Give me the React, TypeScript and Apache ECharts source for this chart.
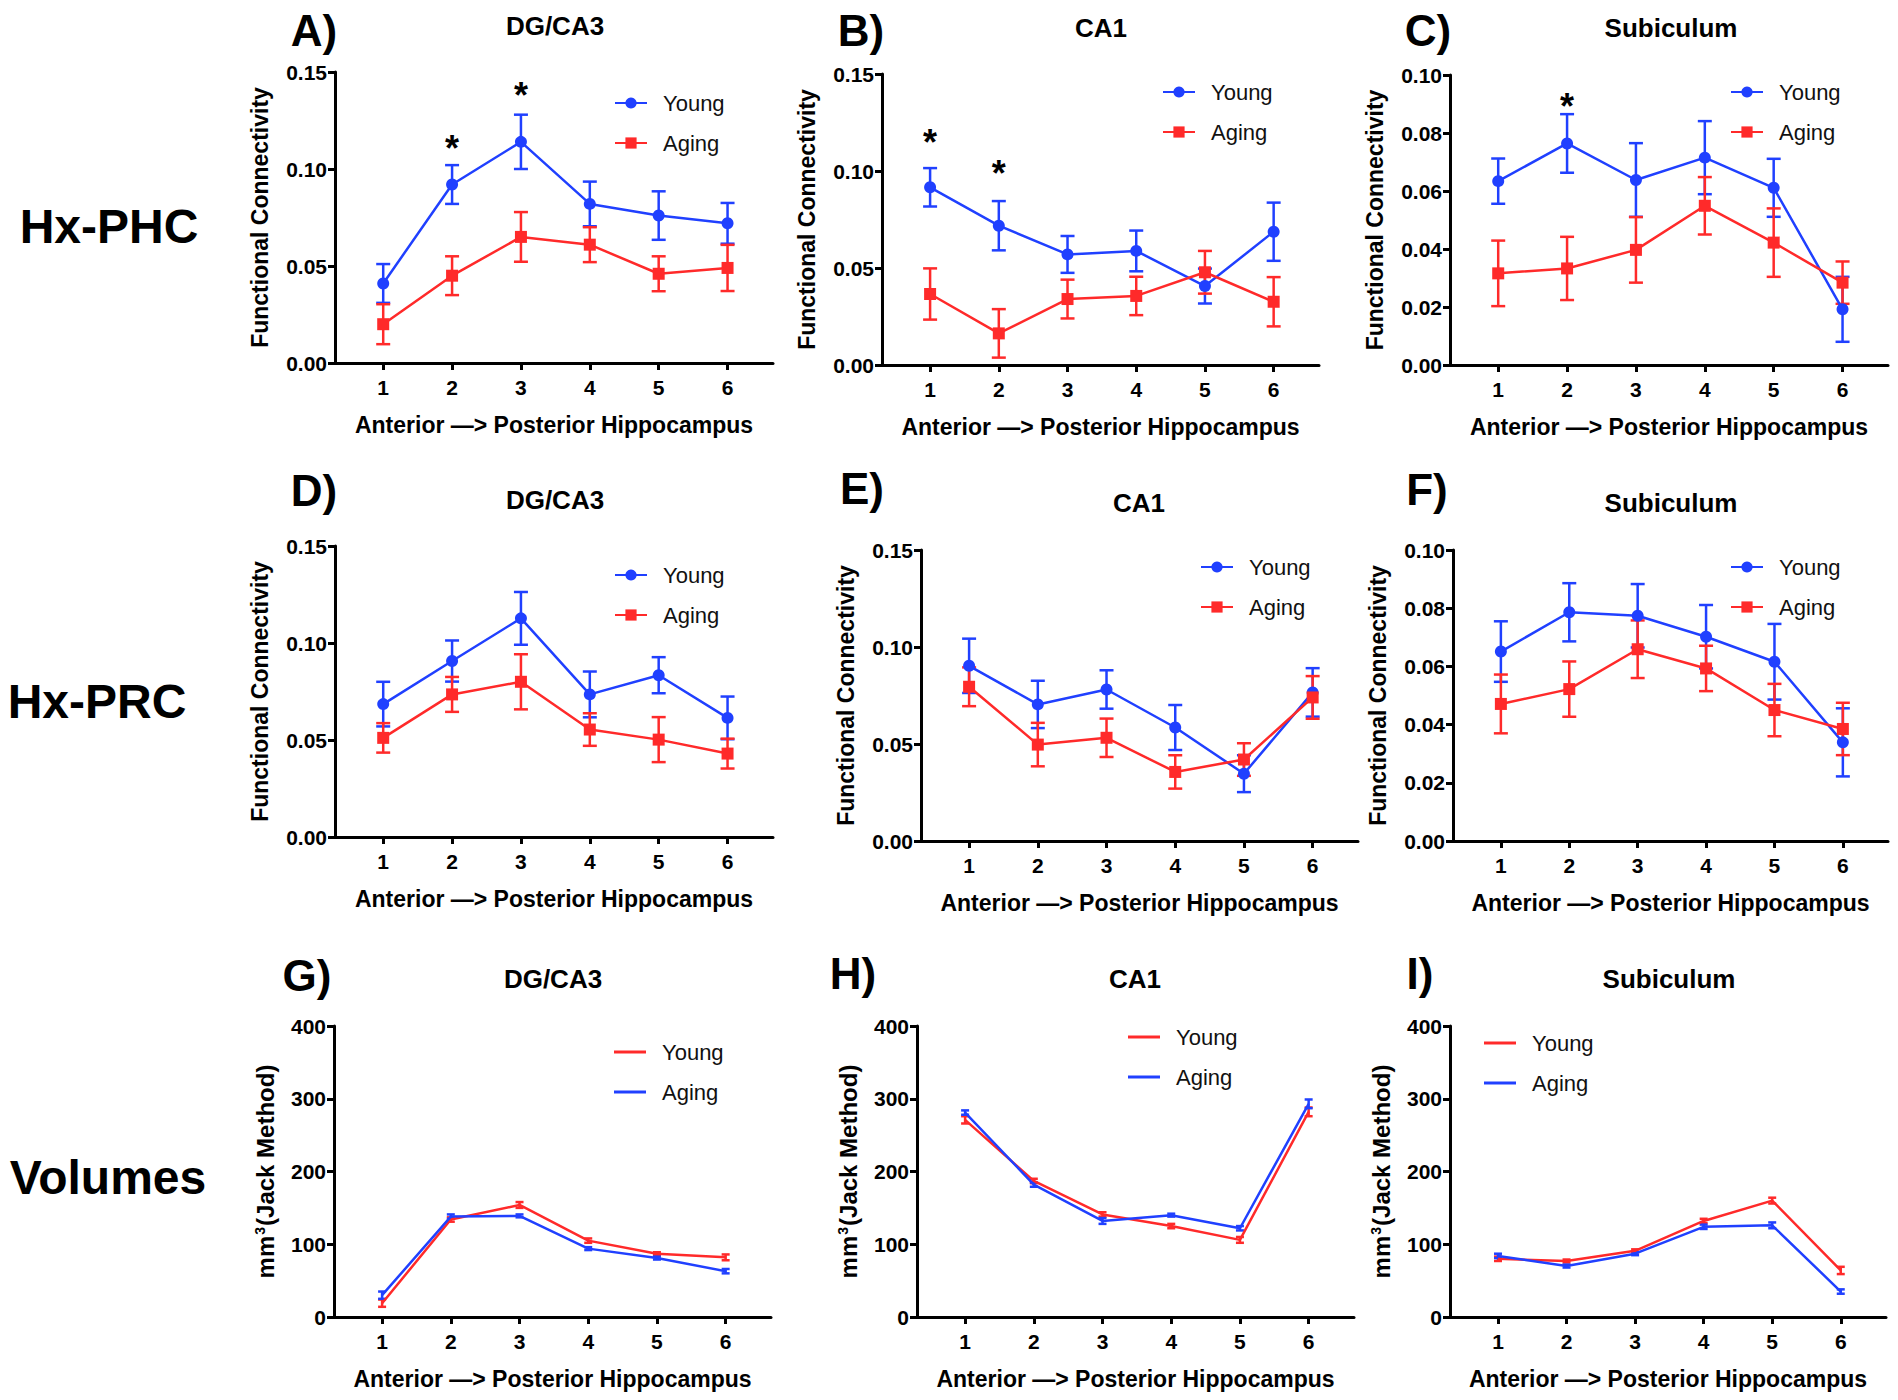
import React, { useEffect, useRef } from 'react';
import * as echarts from 'echarts';

// ---------- DATA ----------
const positions = [1, 2, 3, 4, 5, 6];
const xAxisTitle = 'Anterior —> Posterior Hippocampus';
const fcAxisTitle = 'Functional Connectivity';
const volAxisTitle = 'mm{sup|3}(Jack Method)';
const rowLabels = ['Hx-PHC', 'Hx-PRC', 'Volumes'];
const panelLetters = ['A)', 'B)', 'C)', 'D)', 'E)', 'F)', 'G)', 'H)', 'I)'];
const regionTitles = ['DG/CA3', 'CA1', 'Subiculum', 'DG/CA3', 'CA1', 'Subiculum', 'DG/CA3', 'CA1', 'Subiculum'];

// Hx-PHC
const aYoungMean = [0.041, 0.092, 0.114, 0.082, 0.076, 0.072];
const aYoungSem = [0.010, 0.010, 0.014, 0.0115, 0.0125, 0.0105];
const aAgingMean = [0.020, 0.045, 0.065, 0.061, 0.046, 0.049];
const aAgingSem = [0.0103, 0.010, 0.0128, 0.009, 0.009, 0.0119];
const aStarX = [2, 3];
const aStarY = [0.115, 0.142];

const bYoungMean = [0.0916, 0.0718, 0.057, 0.0588, 0.0407, 0.0687];
const bYoungSem = [0.0099, 0.0127, 0.0095, 0.0105, 0.009, 0.015];
const bAgingMean = [0.0366, 0.0163, 0.034, 0.0356, 0.0478, 0.0326];
const bAgingSem = [0.0132, 0.0125, 0.01, 0.0099, 0.011, 0.0127];
const bStarX = [1, 2];
const bStarY = [0.119, 0.103];

const cYoungMean = [0.0634, 0.0764, 0.0638, 0.0715, 0.0611, 0.0192];
const cYoungSem = [0.0078, 0.0101, 0.0127, 0.0126, 0.01, 0.0112];
const cAgingMean = [0.0316, 0.0333, 0.0397, 0.0549, 0.0422, 0.0284];
const cAgingSem = [0.0113, 0.0109, 0.0113, 0.0099, 0.0118, 0.0073];
const cStarX = [2];
const cStarY = [0.092];

// Hx-PRC
const dYoungMean = [0.0685, 0.0907, 0.1127, 0.0735, 0.0834, 0.0614];
const dYoungSem = [0.0115, 0.0106, 0.0136, 0.0118, 0.0093, 0.011];
const dAgingMean = [0.0511, 0.0735, 0.08, 0.0554, 0.0502, 0.043];
const dAgingSem = [0.0076, 0.009, 0.0142, 0.0084, 0.0116, 0.0077];

const eYoungMean = [0.0903, 0.0704, 0.0781, 0.0585, 0.0347, 0.0766];
const eYoungSem = [0.014, 0.0122, 0.0099, 0.0116, 0.0095, 0.0125];
const eAgingMean = [0.0795, 0.0497, 0.0532, 0.0356, 0.042, 0.074];
const eAgingSem = [0.01, 0.0112, 0.0099, 0.0086, 0.0084, 0.011];

const fYoungMean = [0.0651, 0.0786, 0.0774, 0.0702, 0.0616, 0.0339];
const fYoungSem = [0.0104, 0.01, 0.0109, 0.0109, 0.013, 0.0117];
const fAgingMean = [0.0471, 0.0522, 0.0659, 0.0593, 0.045, 0.0385];
const fAgingSem = [0.0101, 0.0095, 0.0099, 0.0078, 0.009, 0.009];

// Volumes
const gYoungMean = [19, 134, 154, 105, 87, 82];
const gYoungSem = [5, 3, 4, 3, 2, 4];
const gAgingMean = [30, 138, 139, 94, 81, 63];
const gAgingSem = [5, 3, 2, 2, 2, 3];

const hYoungMean = [271, 187, 141, 125, 106, 282];
const hYoungSem = [5, 3, 3, 3, 4, 6];
const hAgingMean = [281, 182, 132, 140, 122, 293];
const hAgingSem = [3, 3, 4, 2, 3, 6];

const iYoungMean = [80, 77, 91, 132, 160, 64];
const iYoungSem = [3, 2, 2, 3, 4, 5];
const iAgingMean = [84, 70, 87, 124, 126, 35];
const iAgingSem = [3, 2, 2, 3, 4, 3];

// ---------- STYLE / LAYOUT ----------
const FONT = '"Liberation Sans", Arial, Helvetica, sans-serif';
const BLUE = '#2040ff';
const RED = '#ff2a2a';

type Panel = {
  grid: [number, number, number, number]; // left, top, width, height
  legend: [number, number]; // line start x, first item center y
  title: [number, number];
  letter: [number, number];
  yMax: number;
  yInterval: number;
  volume: boolean;
  young: [number[], number[]];
  aging: [number[], number[]];
  starX?: number[];
  starY?: number[];
};

const panels: Panel[] = [
  { grid: [335, 72, 438, 291], legend: [614, 103], title: [555, 26], letter: [314, 30], yMax: 0.15, yInterval: 0.05, volume: false, young: [aYoungMean, aYoungSem], aging: [aAgingMean, aAgingSem], starX: aStarX, starY: aStarY },
  { grid: [882, 74, 437, 291], legend: [1162, 92], title: [1101, 28], letter: [861, 30], yMax: 0.15, yInterval: 0.05, volume: false, young: [bYoungMean, bYoungSem], aging: [bAgingMean, bAgingSem], starX: bStarX, starY: bStarY },
  { grid: [1450, 75, 438, 290], legend: [1730, 92], title: [1671, 28], letter: [1428, 30], yMax: 0.1, yInterval: 0.02, volume: false, young: [cYoungMean, cYoungSem], aging: [cAgingMean, cAgingSem], starX: cStarX, starY: cStarY },
  { grid: [335, 546, 438, 291], legend: [614, 575], title: [555, 500], letter: [314, 490], yMax: 0.15, yInterval: 0.05, volume: false, young: [dYoungMean, dYoungSem], aging: [dAgingMean, dAgingSem] },
  { grid: [921, 550, 437, 291], legend: [1200, 567], title: [1139, 503], letter: [862, 488], yMax: 0.15, yInterval: 0.05, volume: false, young: [eYoungMean, eYoungSem], aging: [eAgingMean, eAgingSem] },
  { grid: [1453, 550, 435, 291], legend: [1730, 567], title: [1671, 503], letter: [1427, 489], yMax: 0.1, yInterval: 0.02, volume: false, young: [fYoungMean, fYoungSem], aging: [fAgingMean, fAgingSem] },
  { grid: [334, 1026, 437, 291], legend: [614, 1052], title: [553, 979], letter: [307, 975], yMax: 400, yInterval: 100, volume: true, young: [gYoungMean, gYoungSem], aging: [gAgingMean, gAgingSem] },
  { grid: [917, 1026, 437, 291], legend: [1128, 1037], title: [1135, 979], letter: [853, 973], yMax: 400, yInterval: 100, volume: true, young: [hYoungMean, hYoungSem], aging: [hAgingMean, hAgingSem] },
  { grid: [1450, 1026, 436, 291], legend: [1484, 1043], title: [1669, 979], letter: [1420, 973], yMax: 400, yInterval: 100, volume: true, young: [iYoungMean, iYoungSem], aging: [iAgingMean, iAgingSem] },
];

const rowLabelPos: [number, number][] = [[109, 226], [97, 701], [108, 1177]];

const errorRenderer = (color: string, capW: number, lw: number) => (params: any, api: any) => {
  const x = api.value(0);
  const lo = api.coord([x, api.value(1)]);
  const hi = api.coord([x, api.value(2)]);
  const style = { stroke: color, lineWidth: lw };
  return {
    type: 'group',
    children: [
      { type: 'line', shape: { x1: lo[0], y1: lo[1], x2: hi[0], y2: hi[1] }, style },
      { type: 'line', shape: { x1: lo[0] - capW, y1: lo[1], x2: lo[0] + capW, y2: lo[1] }, style },
      { type: 'line', shape: { x1: hi[0] - capW, y1: hi[1], x2: hi[0] + capW, y2: hi[1] }, style },
    ],
  };
};

const STAR_SIZE = 36;
const starRenderer = (params: any, api: any) => {
  const p = api.coord([api.value(0), api.value(1)]);
  return {
    type: 'text',
    x: p[0],
    y: p[1] + STAR_SIZE * 0.23,
    style: { text: '*', fontSize: STAR_SIZE, fontWeight: 'bold', fontFamily: FONT, fill: '#000', align: 'center', verticalAlign: 'middle' },
  };
};

function buildOption() {
  const grid: any[] = [];
  const xAxis: any[] = [];
  const yAxis: any[] = [];
  const series: any[] = [];
  const legend: any[] = [];
  const graphic: any[] = [];

  panels.forEach((p, i) => {
    grid.push({ left: p.grid[0], top: p.grid[1], width: p.grid[2], height: p.grid[3], containLabel: false });
    xAxis.push({
      type: 'value', gridIndex: i, min: 0.3, max: 6.66,
      axisLine: { show: true, onZero: false, lineStyle: { color: '#000', width: 3 } },
      axisTick: { show: true, customValues: positions, length: 7, lineStyle: { color: '#000', width: 3 } },
      axisLabel: { customValues: positions, margin: 14, fontSize: 21, fontWeight: 'bold', color: '#000', fontFamily: FONT, formatter: (v: number) => String(v) },
      splitLine: { show: false },
      name: xAxisTitle, nameLocation: 'middle', nameGap: 50,
      nameTextStyle: { fontSize: 23, fontWeight: 'bold', color: '#000', fontFamily: FONT },
    });
    yAxis.push({
      type: 'value', gridIndex: i, min: 0, max: p.yMax, interval: p.yInterval,
      axisLine: { show: true, onZero: false, lineStyle: { color: '#000', width: 3 } },
      axisTick: { show: true, length: 7, lineStyle: { color: '#000', width: 3 } },
      axisLabel: { margin: 8, fontSize: 21, fontWeight: 'bold', color: '#000', fontFamily: FONT, formatter: (v: number) => (p.volume ? String(Math.round(v)) : v.toFixed(2)) },
      splitLine: { show: false },
      name: p.volume ? volAxisTitle : fcAxisTitle, nameLocation: 'middle', nameRotate: 90, nameGap: p.volume ? 57 : 64,
      nameTextStyle: {
        fontSize: p.volume ? 24 : 23, fontWeight: 'bold', color: '#000', fontFamily: FONT,
        rich: { sup: { fontSize: 14, fontWeight: 'bold', color: '#000', fontFamily: FONT, verticalAlign: 'top', padding: [0, 1, 10, 1] } },
      },
    });

    const youngColor = p.volume ? RED : BLUE;
    const agingColor = p.volume ? BLUE : RED;
    const youngName = p.volume ? 'Young vol' : 'Young';
    const agingName = p.volume ? 'Aging vol' : 'Aging';
    const groups: [string, string, string, [number[], number[]]][] = [
      [youngName, youngColor, 'circle', p.young],
      [agingName, agingColor, 'rect', p.aging],
    ];
    groups.forEach(([name, color, sym, [mean, sem]]) => {
      series.push({
        type: 'custom', xAxisIndex: i, yAxisIndex: i, silent: true,
        renderItem: errorRenderer(color, p.volume ? 4 : 7, 2.5),
        encode: { x: 0, y: [1, 2] },
        data: positions.map((x, k) => [x, mean[k] - sem[k], mean[k] + sem[k]]),
        z: 2,
      });
      series.push({
        type: 'line', name, xAxisIndex: i, yAxisIndex: i, silent: true,
        data: positions.map((x, k) => [x, mean[k]]),
        symbol: p.volume ? 'none' : sym, symbolSize: 12, showSymbol: !p.volume,
        itemStyle: { color }, lineStyle: { color, width: 2.5 },
        z: 3,
      });
    });
    if (p.starX && p.starY) {
      series.push({
        type: 'custom', xAxisIndex: i, yAxisIndex: i, silent: true,
        renderItem: starRenderer, encode: { x: 0, y: 1 },
        data: p.starX.map((x, k) => [x, p.starY![k]]),
        z: 4,
      });
    }

    legend.push({
      orient: 'vertical', left: p.legend[0], top: p.legend[1] - 11, padding: 0,
      itemWidth: 32, itemHeight: p.volume ? 3 : 14, itemGap: 18, selectedMode: false,
      icon: p.volume ? 'rect' : undefined,
      data: [youngName, agingName],
      formatter: (n: string) => n.split(' ')[0],
      textStyle: { fontSize: 22, color: '#111', fontFamily: FONT, padding: [0, 0, 0, 11] },
    });

    graphic.push({
      type: 'text', x: p.title[0], y: p.title[1],
      style: { text: regionTitles[i], fontSize: 26, fontWeight: 'bold', fontFamily: FONT, fill: '#000', align: 'center', verticalAlign: 'middle' },
    });
    graphic.push({
      type: 'text', x: p.letter[0], y: p.letter[1],
      style: { text: panelLetters[i], fontSize: 44, fontWeight: 'bold', fontFamily: FONT, fill: '#000', align: 'center', verticalAlign: 'middle' },
    });
  });

  rowLabels.forEach((t, r) => {
    graphic.push({
      type: 'text', x: rowLabelPos[r][0], y: rowLabelPos[r][1],
      style: { text: t, fontSize: 48, fontWeight: 'bold', fontFamily: FONT, fill: '#000', align: 'center', verticalAlign: 'middle' },
    });
  });

  return {
    animation: false,
    backgroundColor: '#ffffff',
    textStyle: { fontFamily: FONT },
    grid, xAxis, yAxis, series, legend, graphic,
  };
}

export default function App() {
  const ref = useRef<HTMLDivElement>(null);
  useEffect(() => {
    document.body.style.margin = '0';
    if (!ref.current) return;
    const chart = echarts.init(ref.current, undefined, { renderer: 'svg' });
    chart.setOption(buildOption() as any);
    return () => chart.dispose();
  }, []);
  return <div ref={ref} style={{ width: 1898, height: 1400 }} />;
}
